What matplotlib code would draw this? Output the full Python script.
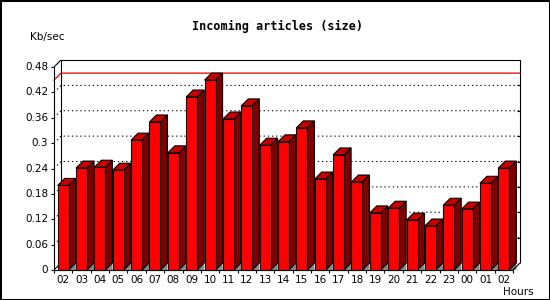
import matplotlib
matplotlib.use("Agg")
import matplotlib.pyplot as plt
from matplotlib.patches import Polygon, Rectangle

# data
hours = ["02", "03", "04", "05", "06", "07", "08", "09", "10", "11", "12", "13",
         "14", "15", "16", "17", "18", "19", "20", "21", "22", "23", "00", "01", "02"]
kbsec = [0.200, 0.241, 0.243, 0.236, 0.307, 0.350, 0.277, 0.409, 0.449, 0.357,
         0.388, 0.295, 0.303, 0.336, 0.215, 0.272, 0.208, 0.135, 0.146, 0.118,
         0.104, 0.153, 0.144, 0.205, 0.241]
yticks = [0, 0.06, 0.12, 0.18, 0.24, 0.3, 0.36, 0.42, 0.48]
ytick_labels = ["0", "0.06", "0.12", "0.18", "0.24", "0.3", "0.36", "0.42", "0.48"]

W, H = 550, 300
fig = plt.figure(figsize=(W / 100, H / 100), dpi=100)
fig.patch.set_facecolor("white")

# front plane of the plot in pixels
x0px, x1px, y0px, ytop = 54, 513, 270, 67
ax = fig.add_axes([x0px / W, (H - y0px) / H, (x1px - x0px) / W, (y0px - ytop) / H])
n = len(hours)
ymax = 0.48
ax.set_xlim(0, n)
ax.set_ylim(0, ymax)
ax.axis("off")

# 3d depth in data units (7 px)
depth = 7
dx = depth * n / (x1px - x0px)
dy = depth * ymax / (y0px - ytop)

line_kw = dict(color="black", lw=0.8, clip_on=False, solid_capstyle="butt")

# back wall frame and floor edges
ax.plot([dx, dx, n + dx, n + dx], [dy, ymax + dy, ymax + dy, dy], zorder=1, **line_kw)
ax.plot([0, 0], [0, ymax], zorder=6, **line_kw)
ax.plot([0, dx], [ymax, ymax + dy], zorder=1, **line_kw)
ax.plot([0, n], [0, 0], zorder=6, **line_kw)
ax.plot([0, dx], [0, dy], zorder=1, **line_kw)
ax.plot([n, n + dx], [0, dy], zorder=6, **line_kw)

# dotted grid lines on the back wall
for v in yticks[1:-1]:
    ax.plot([0, dx, n + dx], [v, v + dy, v + dy], color="black", lw=0.75,
            linestyle=(0, (1.3, 2.7)), clip_on=False, zorder=1)
    ax.plot([n + dx - 0.17, n + dx], [v + dy, v + dy], zorder=1, **line_kw)

# red line at the maximum value
vmax = max(kbsec)
ax.plot([0, dx, n + dx], [vmax, vmax + dy, vmax + dy], color="#e00000", lw=0.9,
        clip_on=False, zorder=2)

# 3d bars
bw = 0.6
for i, v in enumerate(kbsec):
    left = i + (1 - bw) / 2
    right = left + bw
    ax.add_patch(Polygon([(right, 0), (right + dx, dy), (right + dx, 0)],
                         closed=True, facecolor="#888888", edgecolor="none",
                         zorder=3, clip_on=False))
    ax.add_patch(Polygon([(right, 0), (right, v), (right + dx, v + dy), (right + dx, dy)],
                         closed=True, facecolor="#800000", edgecolor="black",
                         lw=0.8, zorder=4, clip_on=False))
    ax.add_patch(Polygon([(left, v), (left + dx, v + dy), (right + dx, v + dy), (right, v)],
                         closed=True, facecolor="#c80000", edgecolor="black",
                         lw=0.8, zorder=4, clip_on=False))
ax.bar([i + 0.5 for i in range(n)], kbsec, width=bw, color="#ff0000",
       edgecolor="black", linewidth=0.8, zorder=5, clip_on=False)

# ticks and labels
tick_font = dict(family="DejaVu Sans", size=7.5)
tlen_x = 3 * n / (x1px - x0px)
tlen_y = 3 * ymax / (y0px - ytop)
for v, lab in zip(yticks, ytick_labels):
    ax.plot([-tlen_x, 0], [v, v], zorder=6, **line_kw)
    ax.text(-tlen_x - 0.15, v, lab, ha="right", va="center", **tick_font)
for i in range(n + 1):
    ax.plot([i, i], [0, -tlen_y], zorder=6, **line_kw)
for i, lab in enumerate(hours):
    ax.text(i + 0.5, -0.011, lab, ha="center", va="top", **tick_font)

fig.text(277 / W, 1 - 26 / H, "Incoming articles (size)", ha="center", va="center",
         family="DejaVu Sans Mono", weight="bold", size=8.5)
fig.text(30 / W, 1 - 37 / H, "Kb/sec", ha="left", va="center", **tick_font)
fig.text(534 / W, 1 - 292 / H, "Hours", ha="right", va="center", **tick_font)

fig.patches.append(Rectangle((0, 0), 1, 1, transform=fig.transFigure, fill=False,
                             edgecolor="black", lw=2.2))

fig.savefig("out.png", dpi=100)
